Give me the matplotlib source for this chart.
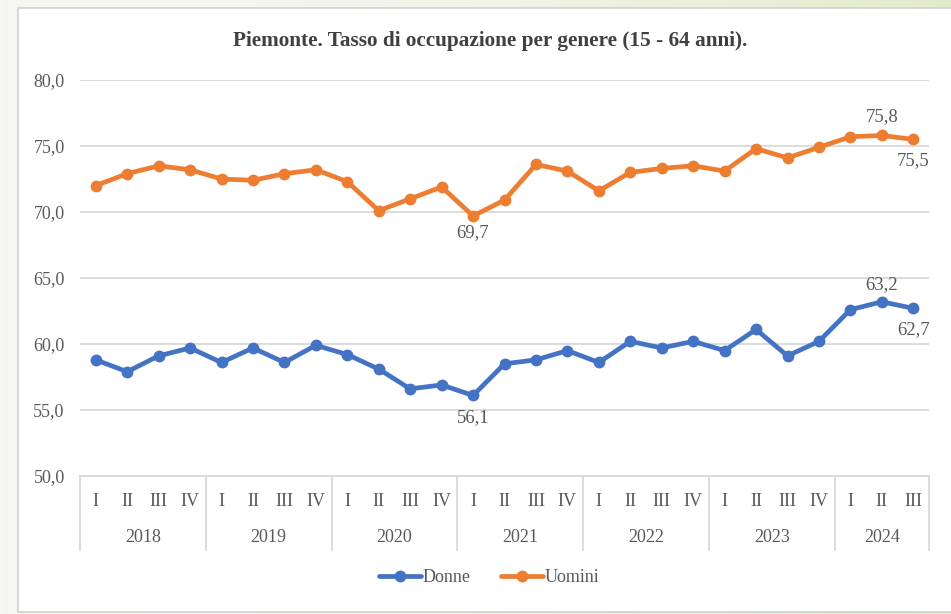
import numpy as np
import matplotlib
matplotlib.use("Agg")
import matplotlib.pyplot as plt
from matplotlib.patches import Rectangle
from matplotlib.lines import Line2D
from matplotlib.colors import to_rgb

# data
anni = ["2018", "2019", "2020", "2021", "2022", "2023", "2024"]
trimestri_per_anno = [4, 4, 4, 4, 4, 4, 3]
trimestri = ["I", "II", "III", "IV"]

donne = [58.8, 57.9, 59.1, 59.7, 58.6, 59.7, 58.6, 59.9,
         59.2, 58.1, 56.6, 56.9, 56.1, 58.5, 58.8, 59.5,
         58.6, 60.2, 59.7, 60.2, 59.5, 61.1, 59.1, 60.2,
         62.6, 63.2, 62.7]
uomini = [72.0, 72.9, 73.5, 73.2, 72.5, 72.4, 72.9, 73.2,
          72.3, 70.1, 71.0, 71.9, 69.7, 70.9, 73.6, 73.1,
          71.6, 73.0, 73.3, 73.5, 73.1, 74.8, 74.1, 74.9,
          75.7, 75.8, 75.5]

# labelled points: index -> vertical offset of the label (points)
etichette_donne = {12: -16, 25: 12, 26: -15}
etichette_uomini = {12: -12, 25: 13.5, 26: -15}

BLU = "#4472C4"
ARANCIO = "#ED7D31"
GRIGIO = "#595959"
GRIGLIA = "#D9D9D9"
FONT = "Liberation Serif"
FS = 13

W, H = 951, 614
fig = plt.figure(figsize=(W / 100, H / 100), dpi=100)

# slide background with a soft green gradient, then the white chart box
bg = fig.add_axes([0, 0, 1, 1], zorder=-10)
c0 = np.array(to_rgb("#f6f7f2"))
c1 = np.array(to_rgb("#e2ebc9"))
t = np.linspace(0, 1, 256)[None, :, None]
grad = c0 + (c1 - c0) * t ** 2
bg.imshow(grad, aspect="auto", extent=[0, 1, 0, 1])
bg.add_patch(Rectangle((18 / W, 2 / H), 1.0, 604 / H, facecolor="white",
                       edgecolor="#d0d0d0", linewidth=1.2))
bg.set_xlim(0, 1)
bg.set_ylim(0, 1)
bg.axis("off")

left, right, top, bottom = 80, 929, 80, 476
ax = fig.add_axes([left / W, 1 - bottom / H, (right - left) / W, (bottom - top) / H])
ax.set_facecolor("none")

n = len(donne)
x = np.arange(n)
ax.plot(x, donne, color=BLU, lw=3.4, marker="o", ms=7.5, label="Donne",
        solid_capstyle="round", zorder=3)
ax.plot(x, uomini, color=ARANCIO, lw=3.4, marker="o", ms=7.5, label="Uomini",
        solid_capstyle="round", zorder=3)

ax.set_xlim(-0.5, n - 0.5)
ax.set_ylim(50, 80)
ax.set_yticks(np.arange(50, 81, 5))
ax.set_yticklabels([f"{v:.1f}".replace(".", ",") for v in np.arange(50, 81, 5)],
                   fontsize=FS, color=GRIGIO, family=FONT)
ax.tick_params(axis="y", length=0, pad=11)
ax.set_xticks([])
ax.grid(axis="y", color=GRIGLIA, lw=1.3)
ax.set_axisbelow(True)
for s in ["top", "right", "left"]:
    ax.spines[s].set_visible(False)
ax.spines["bottom"].set_color(GRIGLIA)
ax.spines["bottom"].set_linewidth(1.3)

# data labels
def etichetta(serie, quali):
    for i, dy in quali.items():
        ax.annotate(f"{serie[i]:.1f}".replace(".", ","), (x[i], serie[i]),
                    xytext=(0, dy), textcoords="offset points", ha="center",
                    va="center", fontsize=13.5, color=GRIGIO, family=FONT)

etichetta(donne, etichette_donne)
etichetta(uomini, etichette_uomini)

# two-level category axis: quarters, years and separators
axh = bottom - top
tr = ax.get_xaxis_transform()
pos = 0
bordi = [-0.5]
for anno, k in zip(anni, trimestri_per_anno):
    for j in range(k):
        ax.text(pos + j, -26 / axh, trimestri[j], transform=tr, ha="center",
                va="center", fontsize=FS, color=GRIGIO, family=FONT)
    ax.text(pos + (k - 1) / 2, -61 / axh, anno, transform=tr, ha="center",
            va="center", fontsize=FS, color=GRIGIO, family=FONT)
    pos += k
    bordi.append(pos - 0.5)
for b in bordi:
    ax.add_line(Line2D([b, b], [0, -74 / axh], transform=tr, color=GRIGLIA,
                       lw=1.3, clip_on=False))

fig.text(490 / W, 1 - 41 / H, "Piemonte. Tasso di occupazione per genere (15 - 64 anni).",
         ha="center", va="center", fontsize=15.3, fontweight="bold", color="#404040",
         family=FONT)

leg = fig.legend(loc="center", bbox_to_anchor=(489 / W, 1 - 578 / H), ncol=2,
                 frameon=False, handlelength=2.3, handletextpad=0.1,
                 columnspacing=1.7, prop={"family": FONT, "size": FS})
for txt in leg.get_texts():
    txt.set_color(GRIGIO)

fig.savefig("out.png", dpi=100)
